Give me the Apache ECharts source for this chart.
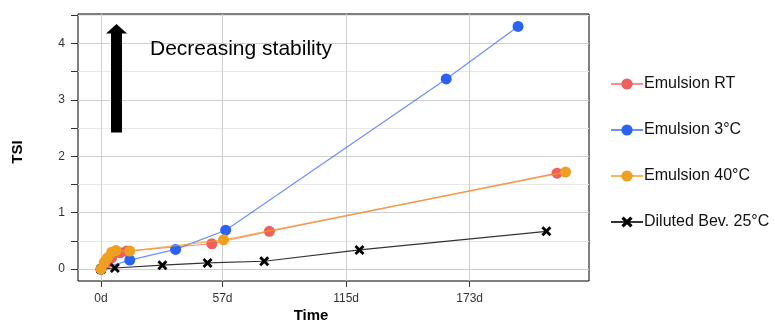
<!DOCTYPE html>
<html>
<head>
<meta charset="utf-8">
<script src="https://cdn.jsdelivr.net/npm/echarts@6/dist/echarts.min.js"></script>
<style>html,body{margin:0;padding:0;background:#fff}#c{width:775px;height:322px}</style>
</head>
<body>
<div id="c"></div>
<script>
// ---- data ----
var seriesNames = ['Emulsion RT', 'Emulsion 3°C', 'Emulsion 40°C', 'Diluted Bev. 25°C'];
var emulsionRT = [[0,0],[3,0.12],[5,0.2],[9,0.29],[12,0.32],[52,0.45],[79,0.67],[214,1.70]];
var emulsion3C = [[0,0],[13.5,0.16],[35,0.35],[58.5,0.69],[162,3.37],[195.7,4.30]];
var emulsion40C = [[0,0],[1.5,0.12],[3,0.2],[5,0.3],[7,0.33],[13.5,0.32],[57.5,0.52],[218,1.72]];
var dilutedBev = [[0,0],[6.5,0.02],[28.8,0.07],[50,0.11],[76.6,0.14],[121.3,0.34],[209,0.67]];
var xTicks = [0, 57, 115, 173];
var yLabels = [0, 1, 2, 3, 4];
var yMinorTicks = [0, 0.5, 1, 1.5, 2, 2.5, 3, 3.5, 4, 4.5];

var colors = ['#ef5f5b', '#2b62f6', '#f0a020', '#000000'];
var crossPath = 'path://M0,2 L2,0 L5,3 L8,0 L10,2 L7,5 L10,8 L8,10 L5,7 L2,10 L0,8 L3,5 Z';
var FONT = 'Liberation Sans, Arial, sans-serif';

function mkSeries(name, data, color, symbol, size, lineOpacity, z) {
  return {
    name: name, type: 'line', data: data,
    symbol: symbol, symbolSize: size, showAllSymbol: true,
    itemStyle: { color: color, opacity: 1 },
    lineStyle: { color: color, width: 1.2, opacity: lineOpacity },
    emphasis: { disabled: true },
    animation: false, z: z
  };
}

var chart = echarts.init(document.getElementById('c'), null, { renderer: 'canvas' });
chart.setOption({
  animation: false,
  backgroundColor: '#fff',
  grid: { left: 78, top: 14, right: 186, bottom: 41, show: true, borderColor: '#000', borderWidth: 1, backgroundColor: 'transparent' },
  xAxis: {
    type: 'value', min: -10.8, max: 229,
    axisLine: { show: false, onZero: false },
    axisTick: { show: true, customValues: xTicks, length: 6, lineStyle: { color: '#333' } },
    axisLabel: { customValues: xTicks, formatter: function (v) { return Math.round(v) + 'd'; }, color: '#333', fontSize: 12, fontFamily: FONT, margin: 12 },
    splitLine: { show: true, lineStyle: { color: '#cfcfcf', width: 1 } }
  },
  yAxis: [{
    type: 'value', min: -0.21, max: 4.52,
    axisLine: { show: false, onZero: false },
    axisTick: { show: true, customValues: yMinorTicks, length: 7, lineStyle: { color: '#333' } },
    axisLabel: { customValues: yLabels, color: '#333', fontSize: 12, fontFamily: FONT, margin: 13 },
    splitLine: { show: true, lineStyle: { color: ['#cfcfcf', '#e8e8e8'], width: 1 } }
  }],
  legend: {
    orient: 'vertical', left: 610, top: 76, padding: 0,
    itemWidth: 32, itemHeight: 14, itemGap: 30,
    textStyle: { fontSize: 16, color: '#111', fontFamily: FONT, padding: [0, 0, 0, -4] },
    data: seriesNames, selectedMode: false
  },
  graphic: [
    { type: 'polygon', shape: { points: [[111,132.5],[122,132.5],[122,33.5],[127,33.5],[116.5,24],[106,33.5],[111,33.5]] }, style: { fill: '#000' }, z: 10 },
    { type: 'text', left: 150, top: 39, style: { text: 'Decreasing stability', fontSize: 21, fontFamily: FONT, fill: '#000' }, z: 10 },
    { type: 'text', x: 311, y: 316, style: { text: 'Time', fontSize: 15, fontWeight: 'bold', fontFamily: FONT, fill: '#000', align: 'center', verticalAlign: 'middle' } },
    { type: 'text', x: 18, y: 152, rotation: Math.PI / 2, style: { text: 'TSI', fontSize: 15, fontWeight: 'bold', fontFamily: FONT, fill: '#000', align: 'center', verticalAlign: 'middle' } }
  ],
  series: [
    mkSeries(seriesNames[0], emulsionRT, colors[0], 'circle', 11, 0.7, 2),
    mkSeries(seriesNames[1], emulsion3C, colors[1], 'circle', 11, 0.7, 2),
    mkSeries(seriesNames[2], emulsion40C, colors[2], 'circle', 11, 0.75, 3),
    mkSeries(seriesNames[3], dilutedBev, colors[3], crossPath, 10, 0.8, 2)
  ]
});
</script>
</body>
</html>
